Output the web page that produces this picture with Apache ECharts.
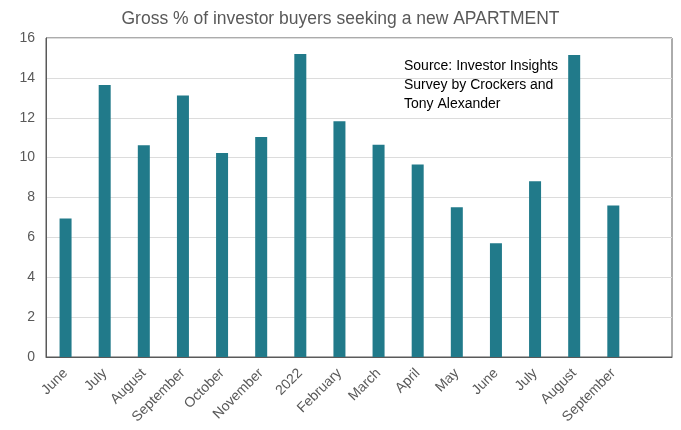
<html>
<head>
<meta charset="utf-8">
<script src="https://cdn.jsdelivr.net/npm/echarts@6/dist/echarts.min.js"></script>
</head>
<body style="margin:0;background:#fff;">
<div id="main" style="width:681px;height:430px;"></div>
<script>
// data
var months = ['June', 'July', 'August', 'September', 'October', 'November', '2022', 'February',
    'March', 'April', 'May', 'June', 'July', 'August', 'September', ''];
var apartmentPct = [6.95, 13.64, 10.62, 13.12, 10.23, 11.04, 15.2, 11.83,
    10.65, 9.66, 7.51, 5.7, 8.82, 15.15, 7.6, null];
var yTicks = [0, 2, 4, 6, 8, 10, 12, 14, 16];

var chart = echarts.init(document.getElementById('main'));
var font = 'Liberation Sans, Arial, sans-serif';

chart.setOption({
    animation: false,
    title: {
        text: 'Gross % of investor buyers seeking a new APARTMENT',
        left: 'center',
        top: 5,
        textStyle: { fontFamily: font, fontSize: 17.5, fontWeight: 'normal', color: '#595959' }
    },
    grid: {
        left: 46, right: 9, top: 38, bottom: 73,
        show: true, borderColor: '#595959', borderWidth: 1
    },
    xAxis: {
        type: 'category',
        data: months,
        axisLine: { show: true, lineStyle: { color: '#595959' } },
        axisTick: { show: false },
        axisLabel: { rotate: 45, fontFamily: font, fontSize: 14, color: '#595959', margin: 14, interval: 0 }
    },
    yAxis: {
        type: 'value',
        min: yTicks[0], max: yTicks[yTicks.length - 1], interval: 2,
        axisLine: { show: true, lineStyle: { color: '#595959' } },
        axisTick: { show: false },
        axisLabel: { fontFamily: font, fontSize: 14, color: '#595959', margin: 11 },
        splitLine: { lineStyle: { color: '#dcdcdc' } }
    },
    graphic: [{
        type: 'text',
        left: 404, top: 57,
        style: {
            text: 'Source: Investor Insights\nSurvey by Crockers and\nTony Alexander',
            font: '14px ' + font,
            fill: '#000',
            lineHeight: 19
        }
    }],
    series: [{
        type: 'bar',
        data: apartmentPct,
        barWidth: 12,
        itemStyle: { color: '#217a8a' }
    }]
});
</script>
</body>
</html>
